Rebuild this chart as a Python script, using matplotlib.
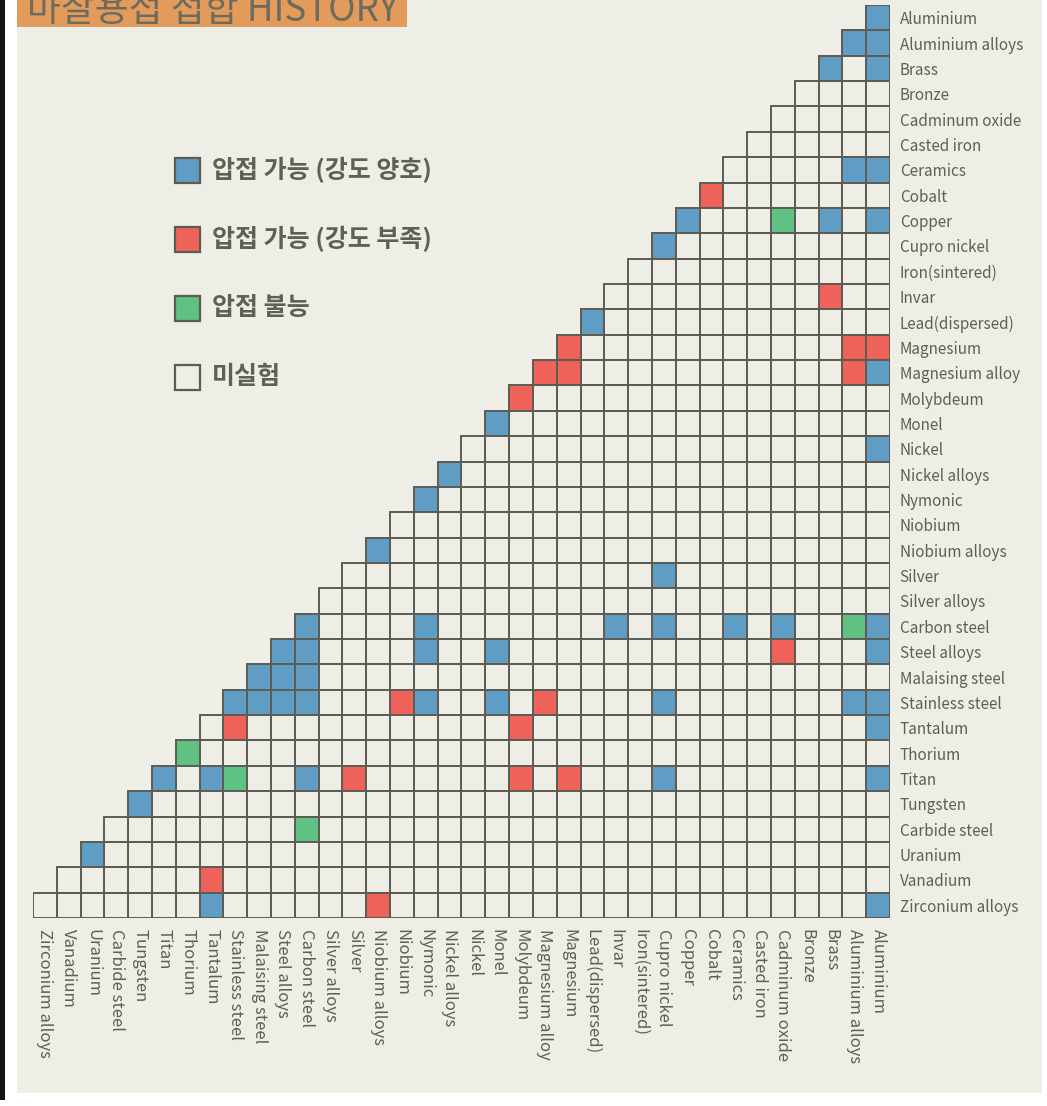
import numpy as np
import matplotlib
matplotlib.use("Agg")
import matplotlib.pyplot as plt
from matplotlib.patches import Rectangle

plt.rcParams['font.family'] = ['Noto Sans CJK KR', 'DejaVu Sans']

BG = "#eeede6"
GRID = "#5c5c53"
TXT = "#5f5f55"

materials = ["Aluminium", "Aluminium alloys", "Brass", "Bronze", "Cadminum oxide",
             "Casted iron", "Ceramics", "Cobalt", "Copper", "Cupro nickel",
             "Iron(sintered)", "Invar", "Lead(dispersed)", "Magnesium", "Magnesium alloy",
             "Molybdeum", "Monel", "Nickel", "Nickel alloys", "Nymonic", "Niobium",
             "Niobium alloys", "Silver", "Silver alloys", "Carbon steel", "Steel alloys",
             "Malaising steel", "Stainless steel", "Tantalum", "Thorium", "Titan",
             "Tungsten", "Carbide steel", "Uranium", "Vanadium", "Zirconium alloys"]

# (row material, column material)
good_pairs = [
    ("Aluminium", "Aluminium"),
    ("Aluminium alloys", "Aluminium alloys"), ("Aluminium alloys", "Aluminium"),
    ("Brass", "Brass"), ("Brass", "Aluminium"),
    ("Ceramics", "Aluminium alloys"), ("Ceramics", "Aluminium"),
    ("Copper", "Copper"), ("Copper", "Brass"), ("Copper", "Aluminium"),
    ("Cupro nickel", "Cupro nickel"),
    ("Lead(dispersed)", "Lead(dispersed)"),
    ("Magnesium alloy", "Aluminium"),
    ("Monel", "Monel"),
    ("Nickel", "Aluminium"),
    ("Nickel alloys", "Nickel alloys"),
    ("Nymonic", "Nymonic"),
    ("Niobium alloys", "Niobium alloys"),
    ("Silver", "Cupro nickel"),
    ("Carbon steel", "Carbon steel"), ("Carbon steel", "Nymonic"), ("Carbon steel", "Invar"),
    ("Carbon steel", "Cupro nickel"), ("Carbon steel", "Ceramics"),
    ("Carbon steel", "Cadminum oxide"), ("Carbon steel", "Aluminium"),
    ("Steel alloys", "Steel alloys"), ("Steel alloys", "Carbon steel"), ("Steel alloys", "Nymonic"),
    ("Steel alloys", "Monel"), ("Steel alloys", "Aluminium"),
    ("Malaising steel", "Malaising steel"), ("Malaising steel", "Steel alloys"),
    ("Malaising steel", "Carbon steel"),
    ("Stainless steel", "Stainless steel"), ("Stainless steel", "Malaising steel"),
    ("Stainless steel", "Steel alloys"), ("Stainless steel", "Carbon steel"),
    ("Stainless steel", "Nymonic"), ("Stainless steel", "Monel"),
    ("Stainless steel", "Cupro nickel"), ("Stainless steel", "Aluminium alloys"),
    ("Stainless steel", "Aluminium"),
    ("Tantalum", "Aluminium"),
    ("Titan", "Titan"), ("Titan", "Tantalum"), ("Titan", "Carbon steel"),
    ("Titan", "Cupro nickel"), ("Titan", "Aluminium"),
    ("Tungsten", "Tungsten"),
    ("Uranium", "Uranium"),
    ("Zirconium alloys", "Tantalum"), ("Zirconium alloys", "Aluminium"),
]
weak_pairs = [
    ("Cobalt", "Cobalt"),
    ("Invar", "Brass"),
    ("Magnesium", "Magnesium"), ("Magnesium", "Aluminium alloys"), ("Magnesium", "Aluminium"),
    ("Magnesium alloy", "Magnesium alloy"), ("Magnesium alloy", "Magnesium"),
    ("Magnesium alloy", "Aluminium alloys"),
    ("Molybdeum", "Molybdeum"),
    ("Steel alloys", "Cadminum oxide"),
    ("Stainless steel", "Niobium"), ("Stainless steel", "Magnesium alloy"),
    ("Tantalum", "Stainless steel"), ("Tantalum", "Molybdeum"),
    ("Titan", "Silver"), ("Titan", "Molybdeum"), ("Titan", "Magnesium"),
    ("Vanadium", "Tantalum"),
    ("Zirconium alloys", "Niobium alloys"),
]
fail_pairs = [
    ("Copper", "Cadminum oxide"),
    ("Carbon steel", "Aluminium alloys"),
    ("Thorium", "Thorium"),
    ("Titan", "Stainless steel"),
    ("Carbide steel", "Carbon steel"),
]

legend_labels = ["압접 가능 (강도 양호)", "압접 가능 (강도 부족)", "압접 불능", "미실험"]
cell_colors = [BG, "#609dc4", "#ef6259", "#5fc182"]  # untested, good, weak, fail
legend_colors = [cell_colors[1], cell_colors[2], cell_colors[3], cell_colors[0]]

n = len(materials)
idx = {m: i for i, m in enumerate(materials)}
cols = materials[::-1]  # left -> right

# lower triangle: row r holds columns for materials 0..r
status = {}
for r in range(n):
    for j in range(r + 1):
        status[(r, j)] = 0
for code, pairs in [(1, good_pairs), (2, weak_pairs), (3, fail_pairs)]:
    for a, b in pairs:
        status[(idx[a], idx[b])] = code
cell_row = np.array([k[0] for k in status])
cell_col = np.array([n - 1 - k[1] for k in status])
cell_fc = [cell_colors[v] for v in status.values()]

W, H = 1047, 1106
fig = plt.figure(figsize=(W / 100, H / 100), dpi=100, facecolor="white")

# page decorations
fig.add_artist(Rectangle((17 / W, 1 - 1093 / H), (1042 - 17) / W, 1093 / H,
                         transform=fig.transFigure, facecolor=BG, edgecolor="none", zorder=0))
fig.add_artist(Rectangle((0, 1 - 1100 / H), 5 / W, 1100 / H,
                         transform=fig.transFigure, facecolor="#151510", edgecolor="none", zorder=0))
fig.add_artist(Rectangle((17 / W, 1 - 27 / H), (407 - 17) / W, 27 / H,
                         transform=fig.transFigure, facecolor="#e39b5b", edgecolor="none", zorder=1))
fig.text(27 / W, 1 - 21 / H, "마찰용접 접합 HISTORY", fontsize=26.5, color="#6c6c5e",
         ha="left", va="baseline", fontweight="light", zorder=2)

ax = fig.add_axes([33 / W, 1 - 918 / H, 857 / W, 913 / H])
ax.set_facecolor("none")
ax.barh(cell_row + 0.5, 1, height=1, left=cell_col, color=cell_fc,
        edgecolor=GRID, linewidth=1.4)
ax.set_xlim(0, n)
ax.set_ylim(n, 0)
for s in ax.spines.values():
    s.set_visible(False)
ax.yaxis.tick_right()
ax.set_yticks(np.arange(n) + 0.5)
ax.set_yticklabels(materials, fontsize=11, color=TXT)
ax.set_xticks(np.arange(n) + 0.5)
ax.set_xticklabels(cols, rotation=-90, fontsize=12, color=TXT, va="top", ha="center")
ax.tick_params(length=0)
ax.tick_params(axis="y", pad=7)
ax.tick_params(axis="x", pad=8)

# legend
for i, (lab, c) in enumerate(zip(legend_labels, legend_colors)):
    yc = 170 + i * 69
    fig.add_artist(Rectangle((175 / W, 1 - (yc + 12.5) / H), 25 / W, 25 / H,
                             transform=fig.transFigure, facecolor=c, edgecolor=GRID,
                             linewidth=1.6, zorder=3))
    fig.text(212 / W, 1 - yc / H, lab, fontsize=18, color=TXT, ha="left", va="center",
             fontweight="bold")

fig.savefig("out.png", dpi=100, facecolor="white")
